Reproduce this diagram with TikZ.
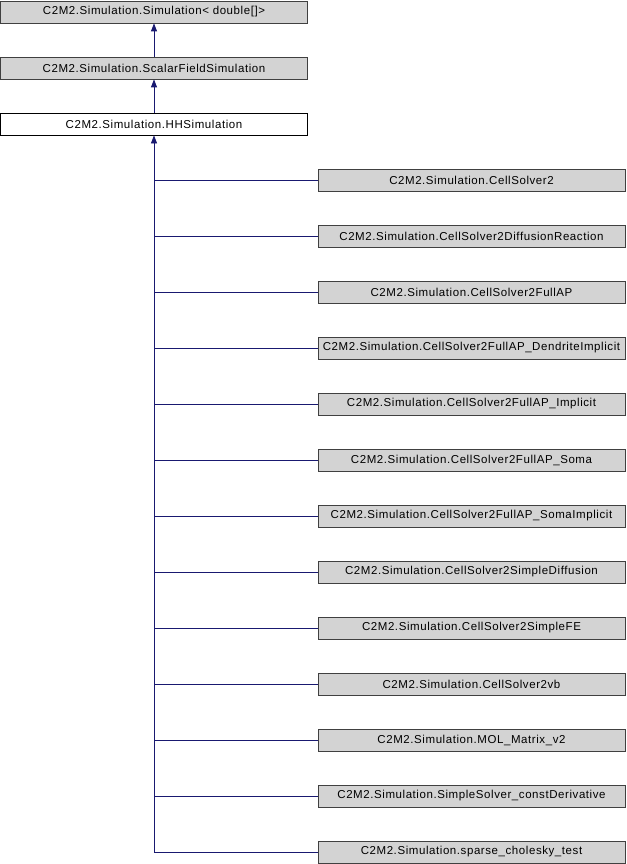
\documentclass[tikz,border=0pt]{standalone}
\usepackage{fontspec}
\setmainfont{Liberation Sans}[LetterSpace=5]
\usetikzlibrary{arrows.meta}
\definecolor{edgeblue}{HTML}{191970}
\definecolor{boxgray}{HTML}{D3D3D3}
\definecolor{boxborder}{HTML}{404040}
\begin{document}
\begin{tikzpicture}[x=1pt,y=-1pt,
  cls/.style={draw=boxborder,fill=boxgray,line width=0.8pt,minimum width=307pt,minimum height=22pt,inner sep=0pt,font=\fontsize{11.5}{13}\selectfont},
  cur/.style={cls,fill=white,draw=black},
  inh/.style={draw=edgeblue,line width=0.8pt,-{Triangle[length=8pt,width=6pt]}},
  lnk/.style={draw=edgeblue,line width=0.8pt}]
\useasboundingbox (0,0) rectangle (626,864);
\node[cls] (sim) at (154,12) {C2M2.Simulation.Simulation< double[]>};
\node[cls] (sfs) at (154,68) {C2M2.Simulation.ScalarFieldSimulation};
\node[cur] (hh) at (154,124) {C2M2.Simulation.HHSimulation};
\draw[inh] (sfs.north) -- (sim.south);
\draw[inh] (hh.north) -- (sfs.south);
\foreach \n/\t [count=\i from 0] in {
 c1/CellSolver2,
 c2/CellSolver2DiffusionReaction,
 c3/CellSolver2FullAP,
 c4/CellSolver2FullAP\_DendriteImplicit,
 c5/CellSolver2FullAP\_Implicit,
 c6/CellSolver2FullAP\_Soma,
 c7/CellSolver2FullAP\_SomaImplicit,
 c8/CellSolver2SimpleDiffusion,
 c9/CellSolver2SimpleFE,
 c10/CellSolver2vb,
 c11/MOL\_Matrix\_v2,
 c12/SimpleSolver\_constDerivative,
 c13/sparse\_cholesky\_test}{
  \node[cls] (\n) at (471.5,180+56*\i) {C2M2.Simulation.\t};
  \coordinate (j\n) at (154,180+56*\i);
  \draw[lnk] (j\n) -- (\n.west);
}
\draw[inh] (jc13) -- (hh.south);
\end{tikzpicture}
\end{document}
